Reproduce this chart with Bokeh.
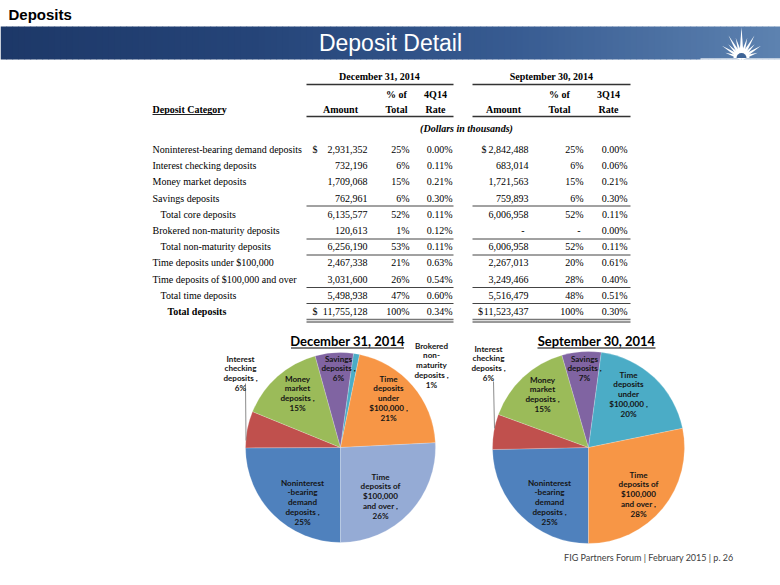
import numpy as np
from bokeh.plotting import figure
from bokeh.models import Range1d, ColumnDataSource
from bokeh.core.properties import value
from bokeh.embed import file_html
from bokeh.resources import INLINE

# ---------------- data ----------------
row_labels = [
    "Noninterest-bearing demand deposits",
    "Interest checking deposits",
    "Money market deposits",
    "Savings deposits",
    "Total core deposits",
    "Brokered non-maturity deposits",
    "Total non-maturity deposits",
    "Time deposits under $100,000",
    "Time deposits of $100,000 and over",
    "Total time deposits",
    "Total deposits",
]
dec_amount = [2931352, 732196, 1709068, 762961, 6135577, 120613, 6256190,
              2467338, 3031600, 5498938, 11755128]
dec_pct = [25, 6, 15, 6, 52, 1, 53, 21, 26, 47, 100]
dec_rate = [0.00, 0.11, 0.21, 0.30, 0.11, 0.12, 0.11, 0.63, 0.54, 0.60, 0.34]
sep_amount = [2842488, 683014, 1721563, 759893, 6006958, None, 6006958,
              2267013, 3249466, 5516479, 11523437]
sep_pct = [25, 6, 15, 6, 52, None, 52, 20, 28, 48, 100]
sep_rate = [0.00, 0.06, 0.21, 0.30, 0.11, 0.00, 0.11, 0.61, 0.40, 0.51, 0.30]

pie_rows = [0, 1, 2, 3, 5, 7, 8]          # rows that are pie slices
dec_title = "December 31, 2014"
sep_title = "September 30, 2014"
dec_rate_head = "4Q14"
sep_rate_head = "3Q14"

# ---------------- style / layout ----------------
palette = ["#4F81BD", "#C0504D", "#9BBB59", "#8064A2", "#4BACC6", "#F79646", "#95ABD5"]
SERIF = "Liberation Serif"
SANS = "Liberation Sans"
CAL = "Lato"

W, H = 780, 585
p = figure(width=W, height=H, x_range=Range1d(0, W), y_range=Range1d(-H, 0),
           output_backend="svg", toolbar_location=None, min_border=0,
           x_axis_location=None, y_axis_location=None)
p.grid.visible = False
p.outline_line_color = None
p.background_fill_color = "white"
p.border_fill_color = "white"


def txt(x, y, s, size, font=SERIF, style="normal", align="left", color="black"):
    p.text(x=[x], y=[-y], text=[s], text_font=value(font), text_font_size=f"{size}px",
           text_font_style=style, text_align=align, text_baseline="middle", text_color=color)


def hline(x0, x1, y, w=1.0, color="black"):
    p.segment(x0=[x0], y0=[-y], x1=[x1], y1=[-y], line_color=color, line_width=w)


# ---------------- header ----------------
txt(8, 14, "Deposits", 15, SANS, "bold")
xs = np.linspace(0, 780, 131)
stop_x = [0, 250, 520, 780]
stop_c = np.array([[0x1D, 0x38, 0x68], [0x25, 0x44, 0x78], [0x38, 0x5C, 0x92], [0x5D, 0x82, 0xB0]], float)
mid = (xs[:-1] + xs[1:]) / 2
cols = []
for m in mid:
    rgb = [np.interp(m, stop_x, stop_c[:, k]) for k in range(3)]
    cols.append("#%02x%02x%02x" % tuple(int(round(v)) for v in rgb))
p.quad(left=xs[:-1], right=xs[1:] + 0.6, top=-26, bottom=-59, fill_color=cols, line_color=None)
txt(390, 42.5, "Deposit Detail", 23, SANS, "normal", "center", "white")

# sunburst logo
cxl, cyl = 741, 57.5
ang = np.deg2rad([18, 32, 46, 60, 74, 90, 106, 120, 134, 148, 162])
lens = np.array([17, 23, 19, 26, 21, 31, 21, 26, 19, 23, 17])
rx, ry = [], []
for a, L in zip(ang, lens):
    px_, py_ = -np.sin(a), np.cos(a)
    rx.append([cxl + 2.2 * px_, cxl + L * np.cos(a), cxl - 2.2 * px_])
    ry.append([-cyl + 2.2 * py_, -cyl + L * np.sin(a), -cyl - 2.2 * py_])
p.patches(xs=rx, ys=ry, fill_color="white", line_color=None)
p.wedge(x=[cxl], y=[-cyl], radius=8, start_angle=0, end_angle=np.pi, fill_color="white", line_color=None)
p.wedge(x=[cxl], y=[-cyl], radius=5, start_angle=0, end_angle=np.pi, fill_color="#3E6497", line_color=None)
p.segment(x0=[700], y0=[-58.5], x1=[780], y1=[-58.5], line_color="white", line_width=1.5, line_alpha=0.8)

# ---------------- table ----------------
row_y = [149 + 16.2 * i for i in range(len(row_labels))]
indent = [0, 0, 0, 0, 1, 0, 1, 0, 0, 1, 2]
ind_x = [152, 160, 167]
FS = 10

dec_cols = dict(span=(306, 453), dollar=(312, 312), amt=367, pct=409, rate=452,
                amt_h=340, pct_h=396, rate_h=435, title_c=379)
sep_cols = dict(span=(472, 630), dollar=(481, 477.5), amt=528, pct=583, rate=627,
                amt_h=503, pct_h=559, rate_h=608, title_c=551)

# header texts
for cdef, title, rh in [(dec_cols, dec_title, dec_rate_head), (sep_cols, sep_title, sep_rate_head)]:
    txt(cdef["title_c"], 76, title, FS, SERIF, "bold", "center")
    hline(cdef["span"][0], cdef["span"][1], 84, 1.6, "#333333")
    txt(cdef["pct_h"], 94, "% of", FS, SERIF, "bold", "center")
    txt(cdef["rate_h"], 94, rh, FS, SERIF, "bold", "center")
    txt(cdef["amt_h"], 108.5, "Amount", FS, SERIF, "bold", "center")
    txt(cdef["pct_h"], 108.5, "Total", FS, SERIF, "bold", "center")
    txt(cdef["rate_h"], 108.5, "Rate", FS, SERIF, "bold", "center")
    hline(cdef["span"][0], cdef["span"][1], 116, 1.4, "#333333")
    for ly in [205.5, 238.5, 254.5, 287, 303]:
        hline(cdef["span"][0], cdef["span"][1], ly, 1.0, "#444444")
    hline(cdef["span"][0], cdef["span"][1], 319, 1.3, "#777777")
    hline(cdef["span"][0], cdef["span"][1], 321.5, 1.3, "#777777")

txt(152, 108.5, "Deposit Category", FS, SERIF, "bold")
hline(152, 223, 114, 1.0, "#222222")
txt(466, 128, "(Dollars in thousands)", FS, SERIF, "bold italic", "center")

# row labels
lab_src = ColumnDataSource(dict(
    x=[ind_x[k] for k in indent], y=[-v for v in row_y], t=row_labels,
    st=["bold" if k == 2 else "normal" for k in indent]))
p.text(x="x", y="y", text="t", source=lab_src, text_font=value(SERIF), text_font_size=f"{FS}px",
       text_font_style="st", text_baseline="middle", text_color="black")

for cdef, amts, pcts, rates in [(dec_cols, dec_amount, dec_pct, dec_rate),
                                (sep_cols, sep_amount, sep_pct, sep_rate)]:
    at = [f"{a:,}" if a is not None else "-" for a in amts]
    ax = [cdef["amt"] if a is not None else cdef["amt"] - 4 for a in amts]
    pt = [f"{v}%" if v is not None else "-" for v in pcts]
    pxs = [cdef["pct"] if v is not None else cdef["pct"] - 3 for v in pcts]
    rt = [f"{r:.2f}%" for r in rates]
    ys = [-v for v in row_y]
    for xx, tt in [(ax, at), (pxs, pt), ([cdef["rate"]] * len(rt), rt)]:
        p.text(x=xx, y=ys, text=tt, text_font=value(SERIF), text_font_size=f"{FS}px",
               text_align="right", text_baseline="middle", text_color="black")
    p.text(x=list(cdef["dollar"]), y=[ys[0], ys[-1]], text=["$", "$"], text_font=value(SERIF),
           text_font_size=f"{FS}px", text_baseline="middle", text_color="black")

# ---------------- pies ----------------
wrap = {
    0: ["Noninterest", "-bearing", "demand", "deposits"],
    1: ["Interest", "checking", "deposits"],
    2: ["Money", "market", "deposits"],
    3: ["Savings", "deposits"],
    5: ["Brokered", "non-", "maturity", "deposits"],
    7: ["Time", "deposits", "under", "$100,000"],
    8: ["Time", "deposits of", "$100,000", "and over"],
}
dec_lab = {0: (302, 482), 1: (240, 358), 2: (297, 378), 3: (338, 358), 5: (431, 345),
           7: (388, 378), 8: (380, 476)}
sep_lab = {0: (549, 482), 1: (488, 348), 2: (542, 379), 3: (584, 358),
           7: (628, 374), 8: (638, 474)}


def pie(cx, cy, r, amounts, labpos, title, title_c, title_w, leader):
    rows = [i for i in pie_rows if amounts[i]]
    vals = np.array([amounts[i] for i in rows], float)
    frac = vals / vals.sum()
    cum = np.concatenate([[0.0], np.cumsum(frac)])
    start = -np.pi / 2 - 2 * np.pi * cum[:-1]
    end = -np.pi / 2 - 2 * np.pi * cum[1:]
    p.wedge(x=[cx] * len(rows), y=[-cy] * len(rows), radius=r, start_angle=start, end_angle=end,
            direction="clock", fill_color=palette[:len(rows)], line_color="white",
            line_width=0.5, line_alpha=0.4)
    p.segment(x0=[leader[0]], y0=[-leader[1]], x1=[leader[2]], y1=[-leader[3]],
              line_color="#8C8C8C", line_width=1)
    for k, i in enumerate(rows):
        pct = int(round(frac[k] * 100))
        lines = wrap[i][:-1] + [wrap[i][-1] + " ,", f"{pct}%"]
        x0, y0 = labpos[i]
        p.text(x=[x0] * len(lines), y=[-(y0 + 9.8 * j) for j in range(len(lines))], text=lines,
               text_font=value(CAL), text_font_size="8.1px", text_font_style="bold",
               text_align="center", text_baseline="middle", text_color="#151515")
    txt(title_c, 340, title, 13, CAL, "bold", "center", "black")
    hline(title_c - title_w / 2, title_c + title_w / 2, 347.5, 1.2, "black")


pie(340, 447, 95, dec_amount, dec_lab, dec_title, 347, 113, (245, 383, 245.5, 440))
pie(588, 447, 96, sep_amount, sep_lab, sep_title, 596, 118, (493, 381, 494, 428))

# ---------------- footer ----------------
txt(733, 557, "FIG Partners Forum | February 2015 | p. 26", 9, CAL, "normal", "right", "#404040")

open("out.html", "w").write(file_html(p, INLINE))
